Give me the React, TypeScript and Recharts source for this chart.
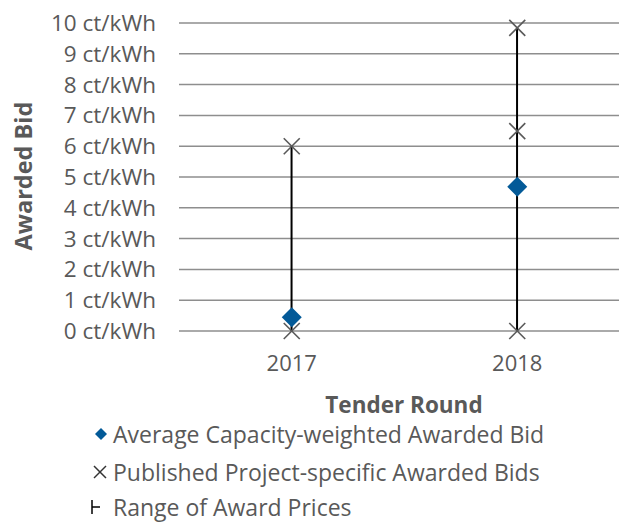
import React from 'react'
import { ComposedChart, Bar, Scatter, XAxis, YAxis, CartesianGrid } from 'recharts'

// tender rounds and values in ct/kWh
const years = ['2017', '2018']
const avgBid = [0.45, 4.68]
const bidLow = [0, 0]
const bidMid = [6.0, 6.49]
const bidHigh: (number | null)[] = [null, 9.84]
const rangeLow = [0, 0]
const rangeHigh = [6.0, 9.84]
const yTicks = [0, 1, 2, 3, 4, 5, 6, 7, 8, 9, 10]

const data = years.map((year, i) => ({
  year,
  avg: avgBid[i],
  low: bidLow[i],
  mid: bidMid[i],
  high: bidHigh[i],
  range: [rangeLow[i], rangeHigh[i]],
}))

const FONT = '"Open Sans", sans-serif'
const TEXT = '#595959'
const BLUE = '#035a98'

const Cross = (props: any) => {
  const { cx, cy } = props
  if (cx == null || cy == null || props.payload == null) return null
  const s = 8
  return (
    <g stroke="#595959" strokeWidth={1.6}>
      <line x1={cx - s} y1={cy - s} x2={cx + s} y2={cy + s} />
      <line x1={cx - s} y1={cy + s} x2={cx + s} y2={cy - s} />
    </g>
  )
}

const Diamond = (props: any) => {
  const { cx, cy } = props
  if (cx == null || cy == null) return null
  const s = 10
  return <path d={`M${cx},${cy - s}L${cx + s},${cy}L${cx},${cy + s}L${cx - s},${cy}Z`} fill={BLUE} />
}

const RangeLine = (props: any) => {
  const { x, y, width, height } = props
  const cx = x + width / 2
  return <line x1={cx} x2={cx} y1={y} y2={y + height} stroke="#000" strokeWidth={2} />
}

const legendRow = (top: number): React.CSSProperties => ({
  position: 'absolute',
  left: 89,
  top: top - 14,
  height: 28,
  display: 'flex',
  alignItems: 'center',
  whiteSpace: 'nowrap',
  fontSize: 23,
  lineHeight: '28px',
})

export default function App() {
  return (
    <div style={{ position: 'absolute', left: 0, top: 0, width: 619, height: 522, overflow: 'hidden', fontFamily: FONT, color: TEXT }}>
      <ComposedChart width={660} height={380} data={data} margin={{ top: 23, right: 30, left: 0, bottom: 0 }}>
        <CartesianGrid vertical={false} stroke="#8e8e8e" strokeWidth={1.5} />
        <XAxis
          dataKey="year"
          axisLine={false}
          tickLine={false}
          height={49}
          tickMargin={18}
          tick={{ fill: TEXT, fontSize: 22, fontFamily: FONT }}
        />
        <YAxis
          domain={[0, 10]}
          ticks={yTicks}
          interval={0}
          width={179}
          axisLine={false}
          tickLine={false}
          tickMargin={17}
          tickFormatter={(v) => `${v} ct/kWh`}
          tick={{ fill: TEXT, fontSize: 22.5, fontFamily: FONT }}
        />
        <Bar dataKey="range" shape={<RangeLine />} isAnimationActive={false} />
        <Scatter dataKey="low" shape={<Cross />} isAnimationActive={false} />
        <Scatter dataKey="mid" shape={<Cross />} isAnimationActive={false} />
        <Scatter dataKey="high" shape={<Cross />} isAnimationActive={false} />
        <Scatter dataKey="avg" shape={<Diamond />} isAnimationActive={false} />
      </ComposedChart>
      <div style={{ position: 'absolute', left: 24, top: 176, transform: 'translate(-50%, -50%) rotate(-90deg)', whiteSpace: 'nowrap', fontWeight: 700, fontSize: 23.5, lineHeight: 1 }}>
        Awarded Bid
      </div>
      <div style={{ position: 'absolute', left: 404, top: 405, transform: 'translate(-50%, -50%)', whiteSpace: 'nowrap', fontWeight: 700, fontSize: 22.5, lineHeight: 1 }}>
        Tender Round
      </div>
      <div style={legendRow(434)}>
        <svg width={24} height={20}>
          <path d="M12,4L18,10L12,16L6,10Z" fill={BLUE} />
        </svg>
        <span>Average Capacity-weighted Awarded Bid</span>
      </div>
      <div style={legendRow(472)}>
        <svg width={24} height={20}>
          <g stroke="#333" strokeWidth={1.5}>
            <line x1={5} y1={4} x2={17} y2={16} />
            <line x1={5} y1={16} x2={17} y2={4} />
          </g>
        </svg>
        <span>Published Project-specific Awarded Bids</span>
      </div>
      <div style={legendRow(507)}>
        <svg width={24} height={20}>
          <g stroke="#000" strokeWidth={1.5}>
            <line x1={3} y1={3} x2={3} y2={17} />
            <line x1={3} y1={10} x2={11} y2={10} />
          </g>
        </svg>
        <span>Range of Award Prices</span>
      </div>
    </div>
  )
}
